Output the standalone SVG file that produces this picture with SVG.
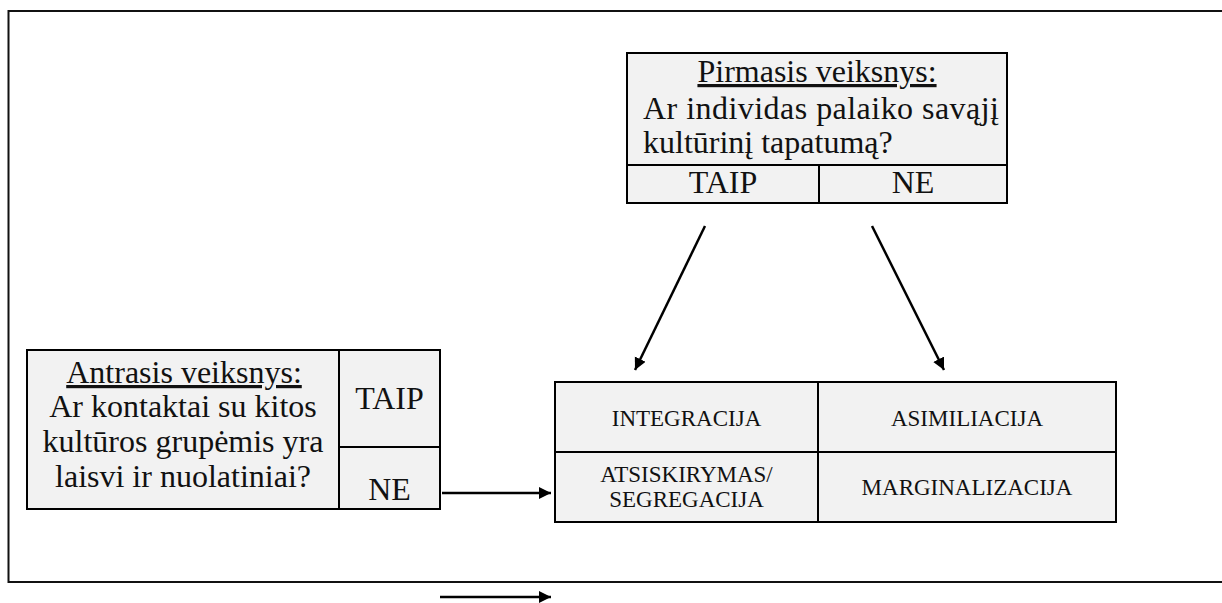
<svg xmlns="http://www.w3.org/2000/svg" width="1222" height="603" viewBox="0 0 1222 603">
<style>
.box{fill:#f2f2f2;stroke:#000;stroke-width:2}
.ln{stroke:#000;stroke-width:2;fill:none}
text{font-family:'Liberation Serif',serif;fill:#111}
.t{font-size:32px}
.s{font-size:23px}
.c{text-anchor:middle}
.u{text-decoration:underline}
.arr{stroke:#000;stroke-width:2.5;fill:none;marker-end:url(#ah)}
</style>
<defs>
<marker id="ah" markerUnits="userSpaceOnUse" markerWidth="14" markerHeight="14" refX="12" refY="6" orient="auto">
<path d="M0,0 L12,6 L0,12 Z" fill="#000"/>
</marker>
</defs>
<rect x="8.5" y="11" width="1230" height="571" fill="none" stroke="#111" stroke-width="2"/>
<g id="first-factor" font-family="Liberation Serif, serif">
<rect class="box" x="627" y="53" width="380" height="150"/>
<line class="ln" x1="627" y1="165" x2="1007" y2="165"/>
<line class="ln" x1="819" y1="165" x2="819" y2="203"/>
<text class="t c u" x="817" y="82">Pirmasis veiksnys:</text>
<text class="t" x="643" y="119" textLength="356" lengthAdjust="spacing">Ar individas palaiko savąjį</text>
<text class="t" x="643" y="153">kultūrinį tapatumą?</text>
<text class="t c" x="723" y="193">TAIP</text>
<text class="t c" x="913" y="193">NE</text>
</g>
<g id="second-factor" font-family="Liberation Serif, serif">
<rect class="box" x="27" y="350" width="413" height="159"/>
<line class="ln" x1="339" y1="350" x2="339" y2="509"/>
<line class="ln" x1="339" y1="447" x2="440" y2="447"/>
<text class="t c u" x="184" y="383">Antrasis veiksnys:</text>
<text class="t c" x="183" y="417">Ar kontaktai su kitos</text>
<text class="t c" x="183" y="452">kultūros grupėmis yra</text>
<text class="t c" x="183" y="487">laisvi ir nuolatiniai?</text>
<text class="t c" x="389.5" y="409">TAIP</text>
<text class="t c" x="389.5" y="500">NE</text>
</g>
<g id="outcomes" font-family="Liberation Serif, serif">
<rect class="box" x="555" y="382" width="561" height="140"/>
<line class="ln" x1="555" y1="452" x2="1116" y2="452"/>
<line class="ln" x1="818" y1="382" x2="818" y2="522"/>
<text class="s c" x="686.5" y="426">INTEGRACIJA</text>
<text class="s c" x="967" y="426">ASIMILIACIJA</text>
<text class="s c" x="686.5" y="482">ATSISKIRYMAS/</text>
<text class="s c" x="686.5" y="507">SEGREGACIJA</text>
<text class="s c" x="967" y="495">MARGINALIZACIJA</text>
</g>
<g id="connectors">
<line class="arr" x1="705" y1="226" x2="635" y2="370"/>
<line class="arr" x1="872" y1="226" x2="944" y2="370"/>
<line class="arr" x1="442" y1="493" x2="551" y2="493"/>
<line class="arr" x1="440" y1="597" x2="551" y2="597"/>
</g>
</svg>
